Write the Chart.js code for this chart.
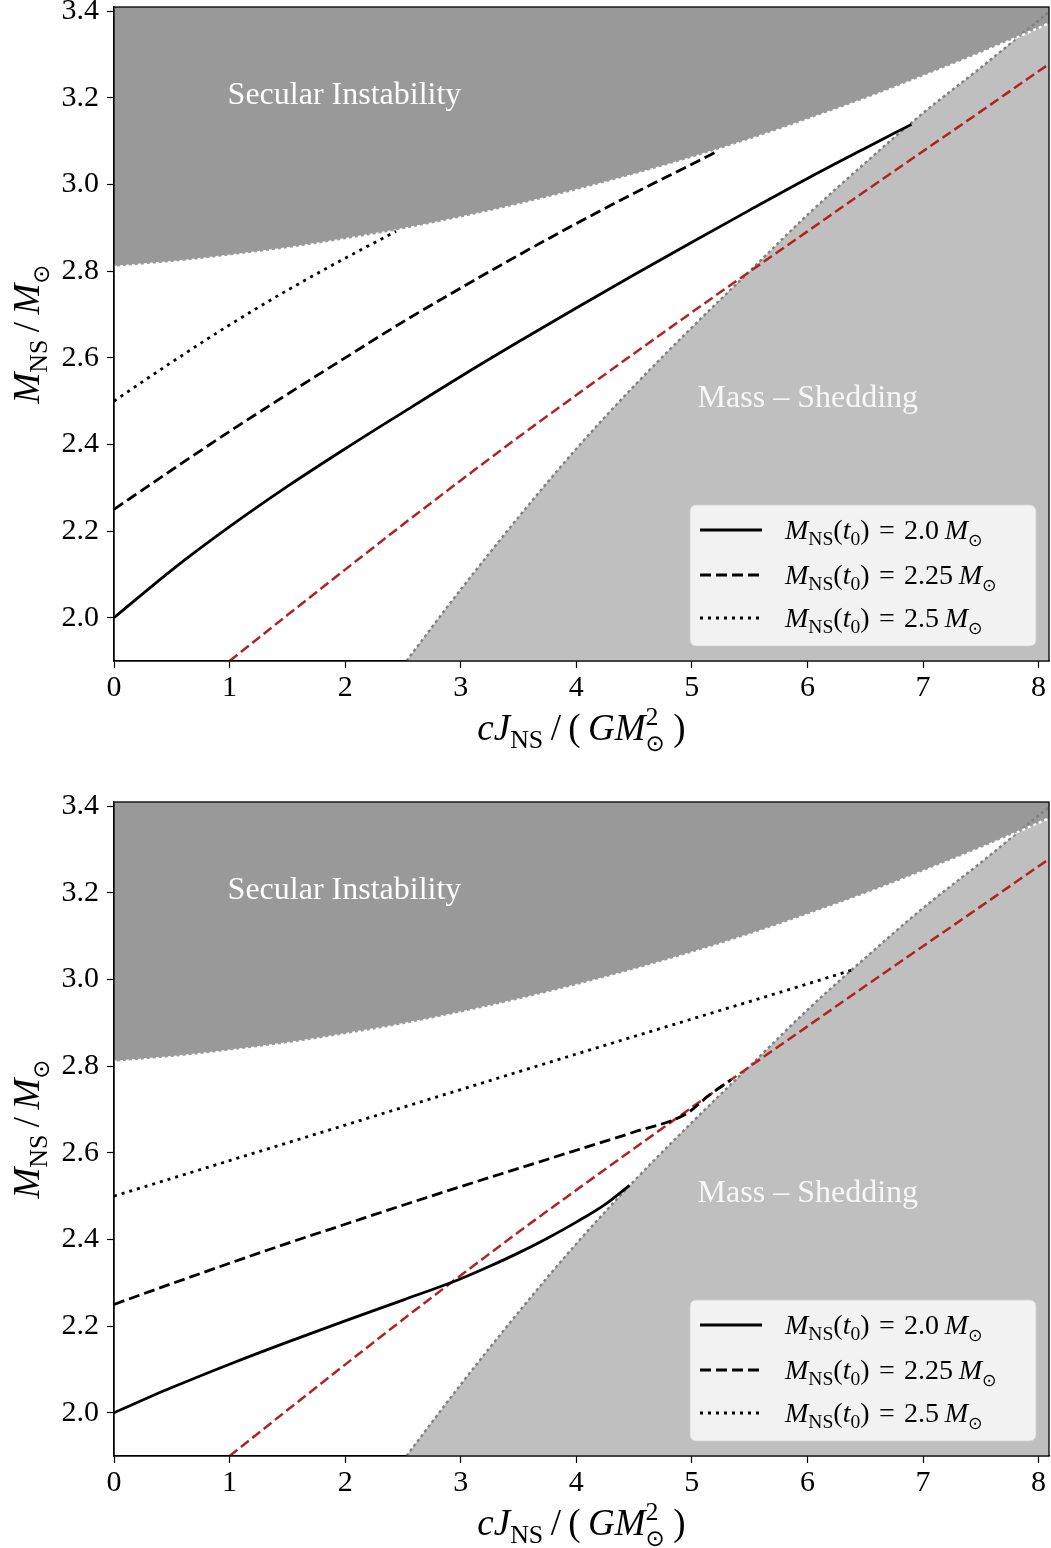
<!DOCTYPE html>
<html>
<head>
<meta charset="utf-8">
<script src="https://cdn.jsdelivr.net/npm/chart.js@4.4.0/dist/chart.umd.min.js"></script>
<style>
  html, body { margin: 0; padding: 0; background: #fff; }
  .panel { position: absolute; left: 0; width: 1051px; }
  #top { top: 0; height: 795px; }
  #bottom { top: 795px; height: 753px; }
</style>
</head>
<body>
<div class="panel" id="top"><canvas id="chartTop"></canvas></div>
<div class="panel" id="bottom"><canvas id="chartBottom"></canvas></div>
<script>
// axes
const xTicks = [0, 1, 2, 3, 4, 5, 6, 7, 8];
const yTicks = [2.0, 2.2, 2.4, 2.6, 2.8, 3.0, 3.2, 3.4];
const xMax = 8.09;
const yMin = 1.9;
const yMax = 3.41;

// secular instability boundary (region above is unstable)
const secularJ = [0, 0.5, 1, 1.5, 2, 2.5, 3, 3.5, 4, 4.5, 5, 5.5, 6, 6.5, 7, 7.5, 8.1, 8.2];
const secularM = [2.810, 2.821, 2.836, 2.853, 2.874, 2.897, 2.924, 2.954, 2.987, 3.023, 3.062, 3.104, 3.150, 3.198, 3.250, 3.304, 3.374, 3.387];

// mass-shedding limit (region to the right sheds mass)
const sheddingJ = [2.53, 3.0, 3.5, 4.0, 4.5, 5.0, 5.5, 6.0, 6.5, 7.0, 7.5, 8.1, 8.2];
const sheddingM = [1.900, 2.065, 2.232, 2.390, 2.535, 2.670, 2.800, 2.930, 3.050, 3.165, 3.270, 3.400, 3.420];

// red dashed reference curve
const limitJ = [1.0, 1.5, 2.0, 2.5, 3.0, 3.5, 4.0, 4.5, 5.0, 5.5, 6.0, 6.5, 7.0, 7.5, 8.1, 8.2];
const limitM = [1.900, 2.006, 2.111, 2.215, 2.317, 2.417, 2.514, 2.610, 2.705, 2.799, 2.892, 2.985, 3.077, 3.169, 3.280, 3.298];

// initial masses for the three tracks
const startMasses = ['2.0', '2.25', '2.5'];

// upper panel tracks
const topSolidJ = [0, 0.5, 1, 1.5, 2, 2.5, 3, 3.5, 4, 4.5, 5, 5.5, 6, 6.5, 6.9];
const topSolidM = [2.000, 2.110, 2.210, 2.303, 2.390, 2.474, 2.557, 2.637, 2.715, 2.792, 2.867, 2.941, 3.014, 3.084, 3.139];
const topDashedJ = [0, 0.5, 1, 1.5, 2, 2.5, 3, 3.5, 4, 4.5, 5, 5.23];
const topDashedM = [2.250, 2.341, 2.430, 2.516, 2.600, 2.683, 2.761, 2.837, 2.910, 2.980, 3.047, 3.078];
const topDottedJ = [0, 0.5, 1, 1.5, 2, 2.44];
const topDottedM = [2.500, 2.590, 2.676, 2.756, 2.830, 2.892];

// lower panel tracks
const botSolidJ = [0, 0.5, 1, 1.5, 2, 2.5, 2.98, 3.25, 3.5, 3.75, 4, 4.25, 4.46];
const botSolidM = [2.000, 2.058, 2.112, 2.163, 2.212, 2.260, 2.307, 2.338, 2.369, 2.403, 2.440, 2.481, 2.525];
const botDashedJ = [0, 0.5, 1, 1.5, 2, 2.5, 3, 3.5, 4, 4.5, 4.95, 5.15, 5.34];
const botDashedM = [2.250, 2.298, 2.345, 2.391, 2.435, 2.479, 2.522, 2.564, 2.606, 2.648, 2.690, 2.733, 2.769];
const botDottedJ = [0, 1, 2, 3, 4, 5, 6, 6.41];
const botDottedM = [2.500, 2.582, 2.664, 2.746, 2.828, 2.909, 2.990, 3.024];

const SERIF = '"Liberation Serif", "DejaVu Serif", serif';
const it = s => `italic ${s}px ${SERIF}`;
const rm = s => `${s}px ${SERIF}`;
const sym = s => `${s}px "DejaVu Sans", sans-serif`;

const pairs = (xs, ys) => xs.map((x, i) => ({ x: x, y: ys[i] }));

// draws a row of text pieces (sub/superscripts via dy)
function drawRich(ctx, segs, x, y, align) {
    let total = 0;
    const widths = segs.map(s => {
        ctx.font = s.font;
        const w = ctx.measureText(s.text).width;
        if (s.advance !== false) total += w;
        return w;
    });
    let cx = align === 'center' ? x - total / 2 : x;
    segs.forEach((s, i) => {
        ctx.font = s.font;
        ctx.fillText(s.text, cx, y + (s.dy || 0));
        if (s.advance !== false) cx += widths[i];
    });
}

function legendLabel(v, S) {
    return [
        { text: 'M', font: it(S) },
        { text: 'NS', font: rm(S * 0.7), dy: S * 0.22 },
        { text: '(', font: rm(S) },
        { text: 't', font: it(S) },
        { text: '0', font: rm(S * 0.7), dy: S * 0.22 },
        { text: ')\u2004=\u2004' + v + '\u2009', font: rm(S) },
        { text: 'M', font: it(S) },
        { text: '\u2299', font: sym(S * 0.62), dy: S * 0.26 }
    ];
}

const panelDecor = {
    id: 'panelDecor',
    afterDatasetsDraw(chart) {
        const ctx = chart.ctx;
        const xs = chart.scales.x, ys = chart.scales.y;
        ctx.save();
        ctx.textAlign = 'center';
        ctx.textBaseline = 'middle';
        ctx.fillStyle = '#ffffff';
        ctx.font = rm(32);
        ctx.fillText('Secular Instability', xs.getPixelForValue(1.994), ys.getPixelForValue(3.206));
        ctx.fillStyle = 'rgba(255,255,255,0.88)';
        ctx.fillText('Mass \u2013 Shedding', xs.getPixelForValue(6.003), ys.getPixelForValue(2.506));
        ctx.restore();
    },
    afterDraw(chart) {
        const ctx = chart.ctx;
        const a = chart.chartArea;
        ctx.save();

        // legend box
        const bw = 346, bh = 141;
        const bx = a.right - 13 - bw, by = a.bottom - 15 - bh;
        ctx.beginPath();
        ctx.roundRect(bx, by, bw, bh, 6);
        ctx.fillStyle = 'rgba(255,255,255,0.8)';
        ctx.fill();
        ctx.strokeStyle = 'rgba(210,210,210,0.8)';
        ctx.lineWidth = 1;
        ctx.stroke();
        const dashes = [[], [11, 5], [3, 5]];
        [25, 70, 113].forEach((dy, i) => {
            const ry = by + dy;
            ctx.beginPath();
            ctx.setLineDash(dashes[i]);
            ctx.strokeStyle = '#000';
            ctx.lineWidth = 2.8;
            ctx.moveTo(bx + 10, ry);
            ctx.lineTo(bx + 72, ry);
            ctx.stroke();
            ctx.setLineDash([]);
            ctx.fillStyle = '#000';
            ctx.textAlign = 'left';
            ctx.textBaseline = 'alphabetic';
            drawRich(ctx, legendLabel(startMasses[i], 28), bx + 95, ry + 9, 'left');
        });

        // frame
        ctx.strokeStyle = '#000';
        ctx.lineWidth = 1.3;
        ctx.strokeRect(a.left, a.top, a.right - a.left, a.bottom - a.top);

        // axis titles
        ctx.fillStyle = '#000';
        ctx.textAlign = 'left';
        ctx.textBaseline = 'alphabetic';
        const S = 37;
        drawRich(ctx, [
            { text: 'cJ', font: it(S) },
            { text: 'NS', font: rm(S * 0.7), dy: S * 0.22 },
            { text: '\u2009/\u2009(\u2009', font: rm(S) },
            { text: 'GM', font: it(S) },
            { text: '\u2299', font: sym(S * 0.62), dy: S * 0.3, advance: false },
            { text: '2', font: rm(S * 0.7), dy: -S * 0.4 },
            { text: '\u2009\u2009)', font: rm(S) }
        ], (a.left + a.right) / 2, a.bottom + 79, 'center');

        ctx.translate(39, (a.top + a.bottom) / 2);
        ctx.rotate(-Math.PI / 2);
        drawRich(ctx, [
            { text: 'M', font: it(S) },
            { text: 'NS', font: rm(S * 0.7), dy: S * 0.22 },
            { text: '\u2009/\u2009', font: rm(S) },
            { text: 'M', font: it(S) },
            { text: '\u2299', font: sym(S * 0.62), dy: S * 0.26 }
        ], 0, 0, 'center');
        ctx.restore();
    }
};

function makePanel(canvasId, solid, dashed, dotted, canvasHeight) {
    const lineBase = {
        pointRadius: 0, cubicInterpolationMode: 'monotone',
        borderColor: '#000', borderWidth: 2.8, fill: false
    };
    new Chart(document.getElementById(canvasId), {
        type: 'line',
        data: {
            datasets: [
                Object.assign({}, lineBase, { label: 'solid', data: solid, order: 0 }),
                Object.assign({}, lineBase, { label: 'dashed', data: dashed, borderDash: [11, 5], order: 1 }),
                Object.assign({}, lineBase, { label: 'dotted', data: dotted, borderDash: [3, 5], order: 2 }),
                Object.assign({}, lineBase, {
                    label: 'limit', data: pairs(limitJ, limitM),
                    borderColor: '#b22222', borderWidth: 2.5, borderDash: [10, 4.5], order: 3
                }),
                Object.assign({}, lineBase, {
                    label: 'secular', data: pairs(secularJ, secularM), borderWidth: 2.4,
                    borderColor: '#ffffff', borderDash: [3, 3], backgroundColor: '#999999', fill: 'end', order: 4
                }),
                Object.assign({}, lineBase, {
                    label: 'shedding', data: pairs(sheddingJ, sheddingM), borderWidth: 2.4,
                    borderColor: '#808080', borderDash: [3, 3], backgroundColor: '#bfbfbf', fill: 'start', order: 5
                })
            ]
        },
        options: {
            responsive: true,
            maintainAspectRatio: false,
            animation: false,
            events: [],
            layout: { padding: { left: 0, right: 2, top: 7, bottom: 0 } },
            plugins: {
                legend: { display: false },
                tooltip: { enabled: false },
                filler: { drawTime: 'beforeDatasetsDraw' }
            },
            scales: {
                x: {
                    type: 'linear',
                    min: 0,
                    max: xMax,
                    afterBuildTicks: scale => { scale.ticks = xTicks.map(v => ({ value: v })); },
                    afterFit: scale => {
                        scale.height = canvasHeight - 661;
                        scale.paddingLeft = 0;
                        scale.paddingRight = 0;
                    },
                    grid: { drawOnChartArea: false, color: '#000', tickLength: 7, tickWidth: 1.2 },
                    border: { display: true, color: '#000', width: 1.3 },
                    ticks: {
                        color: '#000',
                        font: { family: 'Liberation Serif', size: 30 },
                        padding: 2,
                        maxRotation: 0,
                        autoSkip: false,
                        callback: v => String(v)
                    }
                },
                y: {
                    min: yMin,
                    max: yMax,
                    afterBuildTicks: scale => { scale.ticks = yTicks.map(v => ({ value: v })); },
                    afterFit: scale => {
                        scale.width = 114;
                        scale.paddingTop = 0;
                        scale.paddingBottom = 0;
                    },
                    grid: { drawOnChartArea: false, color: '#000', tickLength: 7, tickWidth: 1.2 },
                    border: { display: true, color: '#000', width: 1.3 },
                    ticks: {
                        color: '#000',
                        font: { family: 'Liberation Serif', size: 30 },
                        padding: 8,
                        autoSkip: false,
                        callback: v => Number(v).toFixed(1)
                    }
                }
            }
        },
        plugins: [panelDecor]
    });
}

makePanel('chartTop', pairs(topSolidJ, topSolidM), pairs(topDashedJ, topDashedM), pairs(topDottedJ, topDottedM), 795);
makePanel('chartBottom', pairs(botSolidJ, botSolidM), pairs(botDashedJ, botDashedM), pairs(botDottedJ, botDottedM), 753);
</script>
</body>
</html>
